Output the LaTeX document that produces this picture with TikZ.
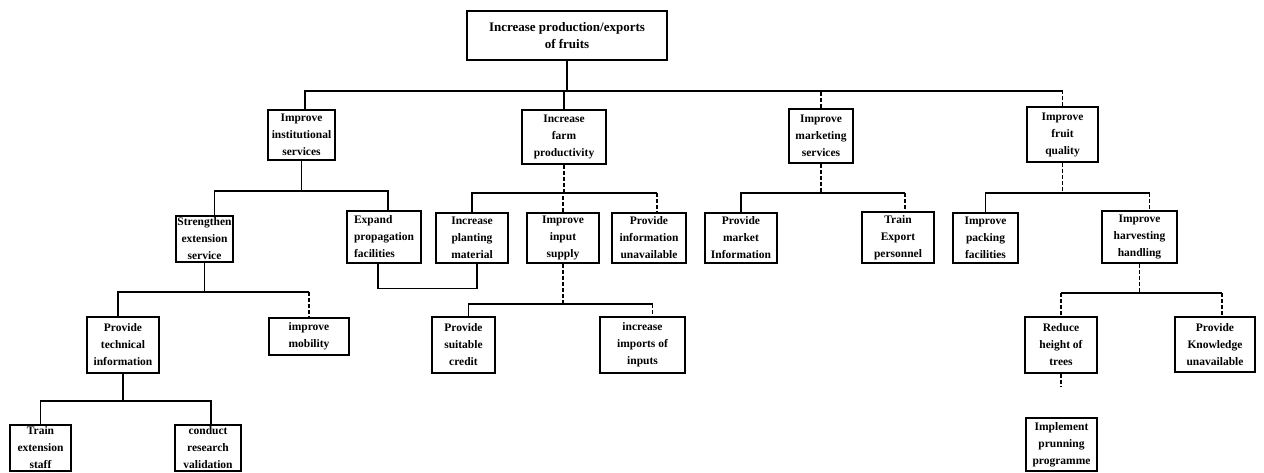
\documentclass[tikz,border=0pt]{standalone}
\usepackage{fontspec}
\setmainfont{Liberation Serif}
\begin{document}
\begin{tikzpicture}[x=1pt,y=-1pt,
  box/.style={draw, line width=1.2pt, align=center, inner sep=0pt,
    font=\fontsize{11.5}{17}\selectfont\bfseries},
  conn/.style={line width=1.2pt},
  dconn/.style={line width=1.2pt, dash pattern=on 4pt off 2pt}]
\useasboundingbox (0,0) rectangle (1264,473);
% level 0
\node[box, minimum width=200, minimum height=49, font=\fontsize{13}{17}\selectfont\bfseries] (top) at (567,35.5) {Increase production/exports\\of fruits};
% level 1
\node[box, minimum width=67, minimum height=50] (inst) at (301.5,135) {Improve\\institutional\\services};
\node[box, minimum width=84, minimum height=54] (farm) at (564,137) {Increase\\farm\\productivity};
\node[box, minimum width=64, minimum height=54] (mkt) at (821,136) {Improve\\marketing\\services};
\node[box, minimum width=71, minimum height=55] (fruit) at (1062.5,134.5) {Improve\\fruit\\quality};
% level 2
\node[box, minimum width=57, minimum height=46] (streng) at (204.5,239) {Strengthen\\extension\\service};
\node[box, minimum width=74, minimum height=52, align=left, inner xsep=3pt] (expand) at (384,237) {Expand\\propagation\\facilities};
\node[box, minimum width=72, minimum height=50] (plant) at (472,238) {Increase\\planting\\material};
\node[box, minimum width=72, minimum height=50] (input) at (563,238) {Improve\\input\\supply};
\node[box, minimum width=74, minimum height=50] (pinfo) at (649,238) {Provide\\information\\unavailable};
\node[box, minimum width=72, minimum height=50] (pmkt) at (741,238) {Provide\\market\\Information};
\node[box, minimum width=72, minimum height=51] (train) at (898,237.5) {Train\\Export\\personnel};
\node[box, minimum width=65, minimum height=50] (pack) at (985.5,238) {Improve\\packing\\facilities};
\node[box, minimum width=75, minimum height=52] (harv) at (1139.5,237) {Improve\\harvesting\\handling};
% level 3
\node[box, minimum width=72, minimum height=56] (tech) at (123,345) {Provide\\technical\\information};
\node[box, minimum width=80, minimum height=37] (mob) at (309,336.5) {improve\\mobility};
\node[box, minimum width=63, minimum height=56] (credit) at (463.5,345) {Provide\\suitable\\credit};
\node[box, minimum width=85, minimum height=56] (imports) at (642.5,345) {increase\\imports of\\inputs};
\node[box, minimum width=72, minimum height=56] (reduce) at (1061,345) {Reduce\\height of\\trees};
\node[box, minimum width=80, minimum height=55] (know) at (1215,344.5) {Provide\\Knowledge\\unavailable};
% level 4
\node[box, minimum width=61, minimum height=46] (trainst) at (40.5,448) {Train\\extension\\staff};
\node[box, minimum width=66, minimum height=46] (conduct) at (208,448) {conduct\\research\\validation};
\node[box, minimum width=71, minimum height=53] (impl) at (1061.5,444.5) {Implement\\prunning\\programme};
% junction coordinates
\coordinate (b1) at (0,91);
\coordinate (b2) at (0,191);
\coordinate (b3) at (0,193);
\coordinate (b7) at (0,292);
\coordinate (b6) at (0,293);
\coordinate (b8) at (0,304);
\coordinate (b9) at (0,401);
\coordinate (rd) at (1061,387);
% level 0 -> 1
\draw[conn] (top.south) -- (top.south |- b1);
\draw[conn] ([xshift=3.5]inst.north) |- (fruit.north |- b1);
\draw[conn] (farm.north) -- (farm.north |- b1);
\draw[dconn] (mkt.north) -- (mkt.north |- b1);
\draw[dconn] (fruit.north) -- (fruit.north |- b1);
% institutional
\draw[conn] (inst.south) -- (inst.south |- b2);
\draw[conn] ([xshift=10]streng.north) |- ([xshift=4]expand.north |- b2) -- ([xshift=4]expand.north);
% farm
\draw[dconn] (farm.south) -- (farm.south |- b3);
\draw[conn] (plant.north) |- ([xshift=8]pinfo.north |- b3);
\draw[dconn] ([xshift=8]pinfo.north |- b3) -- ([xshift=8]pinfo.north);
\draw[dconn] (input.north) -- (input.north |- b3);
\draw[conn] ([xshift=-6]expand.south) -- ++(0,25) -| ([xshift=5]plant.south);
% marketing
\draw[dconn] (mkt.south) -- (mkt.south |- b3);
\draw[conn] (pmkt.north) |- ([xshift=7]train.north |- b3);
\draw[dconn] ([xshift=7]train.north |- b3) -- ([xshift=7]train.north);
% fruit
\draw[dconn] (fruit.south) -- (fruit.south |- b3);
\draw[conn] (pack.north) |- ([xshift=10]harv.north |- b3);
\draw[dconn] ([xshift=10]harv.north |- b3) -- ([xshift=10]harv.north);
% strengthen
\draw[conn] (streng.south) -- (streng.south |- b7);
\draw[conn] ([xshift=-5]tech.north) |- (mob.north |- b7);
\draw[dconn] (mob.north |- b7) -- (mob.north);
% input supply
\draw[dconn] (input.south) -- (input.south |- b8);
\draw[conn] ([xshift=5]credit.north) |- ([xshift=10]imports.north |- b8);
\draw[dconn] ([xshift=10]imports.north |- b8) -- ([xshift=10]imports.north);
% technical
\draw[conn] (tech.south) -- (tech.south |- b9);
\draw[conn] (trainst.north) |- ([xshift=3]conduct.north |- b9) -- ([xshift=3]conduct.north);
% harvesting
\draw[dconn] (harv.south) -- (harv.south |- b6);
\draw[conn] (reduce.north |- b6) -- ([xshift=7]know.north |- b6);
\draw[dconn] (reduce.north |- b6) -- (reduce.north);
\draw[dconn] ([xshift=7]know.north |- b6) -- ([xshift=7]know.north);
\draw[dconn] (reduce.south) -- (rd);
\end{tikzpicture}
\end{document}
